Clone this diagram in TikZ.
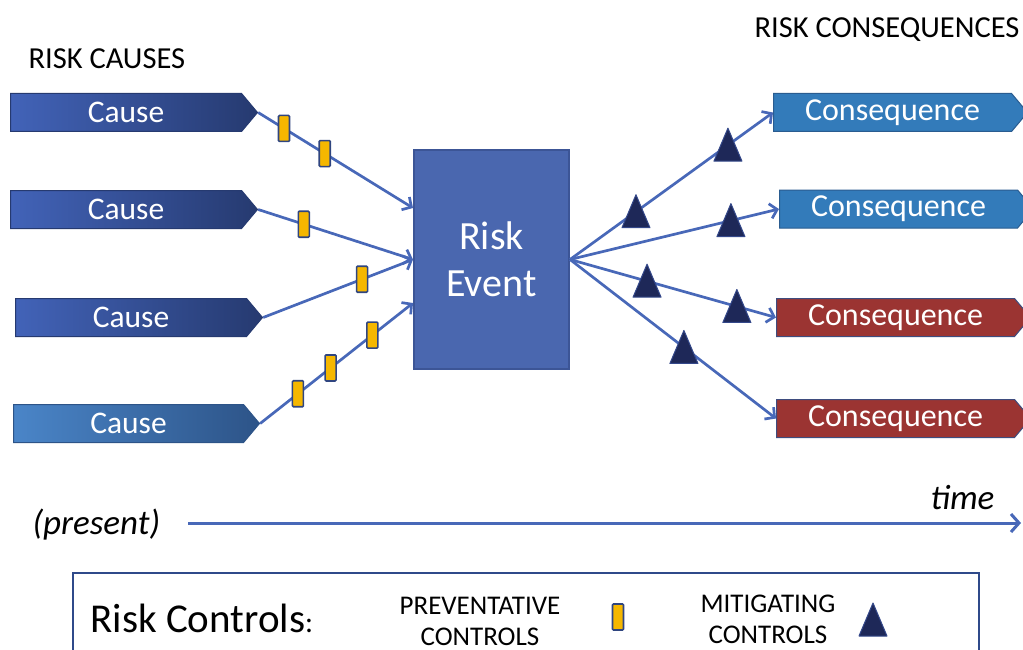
\documentclass[tikz,border=0pt]{standalone}
\usepackage{fontspec}
\setmainfont{Carlito}
\usetikzlibrary{shapes.symbols,arrows.meta}

\definecolor{linkblue}{HTML}{4868B8}
\definecolor{eventfill}{HTML}{4A67AF}
\definecolor{eventborder}{HTML}{3C5596}
\definecolor{causeL}{HTML}{4263B8}
\definecolor{causeR}{HTML}{263A70}
\definecolor{causeLlight}{HTML}{4A85C8}
\definecolor{causeRlight}{HTML}{2D5488}
\definecolor{consblue}{HTML}{337BBA}
\definecolor{consblueborder}{HTML}{2A5C90}
\definecolor{consred}{HTML}{9B3432}
\definecolor{consredborder}{HTML}{3E4C7E}
\definecolor{ctrlyellow}{HTML}{F5B700}
\definecolor{ctrlborder}{HTML}{2F4580}
\definecolor{trifill}{HTML}{1E2858}
\definecolor{triborder}{HTML}{34488A}
\definecolor{legborder}{HTML}{2F4A8A}

\begin{document}
\begin{tikzpicture}[x=1pt,y=-1pt,
  tag/.style={signal, signal to=east, signal pointer angle=100,
    minimum height=38pt, inner sep=0pt, text=white, line width=1pt},
  cause/.style={tag, left color=causeL, right color=causeR, draw=causeR,
    font=\fontsize{31.5}{36}\selectfont},
  causelight/.style={tag, left color=causeLlight, right color=causeRlight, draw=causeRlight,
    font=\fontsize{31.5}{36}\selectfont},
  consb/.style={tag, fill=consblue, draw=consblueborder, font=\fontsize{32}{36}\selectfont},
  consr/.style={tag, fill=consred, draw=consredborder, font=\fontsize{32}{36}\selectfont},
  link/.style={draw=linkblue, line width=2.7pt,
    -{Straight Barb[length=7pt,width=15pt]}},
  prev/.style={rectangle, draw=ctrlborder, fill=ctrlyellow, line width=1.6pt,
    minimum width=11pt, minimum height=26pt, inner sep=0pt, rounded corners=1pt},
  heading/.style={anchor=base west, font=\fontsize{30.5}{34}\selectfont},
  legtext/.style={align=center, font=\fontsize{27}{31}\selectfont},
  mitig/.pic={\filldraw[draw=triborder, fill=trifill, line width=1pt, line join=round]
    (-14,16) -- (14,16) -- (0,-17) -- cycle;}
]
\useasboundingbox (0,0) rectangle (1023,650);
\clip (0,0) rectangle (1023,650);

% headings
\node[heading] (hcauses) at (25,69) {RISK CAUSES};
\node[heading] (hcons) at (751,38) {RISK CONSEQUENCES};

% causes
\node[cause, minimum width=247pt, anchor=west] (c1) at (10,112.5) {Cause};
\node[cause, minimum width=247pt, anchor=west] (c2) at (10,209.5) {Cause};
\node[cause, minimum width=247pt, anchor=west] (c3) at (15,317.5) {Cause};
\node[causelight, minimum width=246pt, anchor=west] (c4) at (13,423.5) {Cause};

% risk event
\node[rectangle, fill=eventfill, draw=eventborder, line width=2pt,
      minimum width=155pt, minimum height=219pt, inner sep=0pt, text=white,
      align=center, font=\fontsize{40}{47}\selectfont] (ev) at (491.5,259.5) {Risk\\Event};

% consequences
\node[consb, minimum width=254pt, anchor=west] (q1) at (773,112.5) {Consequence};
\node[consb, minimum width=254pt, anchor=west] (q2) at (779,209) {Consequence};
\node[consr, minimum width=254pt, anchor=west] (q3) at (776,317.5) {Consequence};
\node[consr, minimum width=254pt, anchor=west] (q4) at (776,418.5) {Consequence};

% cause links with preventative controls
\draw[link] (c1.east) -- coordinate[pos=0.167] (p1) coordinate[pos=0.43] (p2) ([yshift=51.5pt]ev.west);
\draw[link] (c2.east) -- coordinate[pos=0.295] (p3) (ev.west);
\draw[link] (c3.east) -- coordinate[pos=0.66] (p4) (ev.west);
\draw[link] (c4.east) -- coordinate[pos=0.247] (p5) coordinate[pos=0.461] (p6) coordinate[pos=0.734] (p7) ([yshift=-43.5pt]ev.west);
\foreach \p in {p1,p2,p3,p4,p5,p6,p7}
  \node[prev] (ctl-\p) at (\p) {};

% consequence links with mitigating controls
\draw[link] (ev.east) -- coordinate[pos=0.325] (m1) coordinate[pos=0.778] (m2) (q1.west);
\draw[link] (ev.east) -- coordinate[pos=0.77] (m3) (q2.west);
\draw[link] (ev.east) -- coordinate[pos=0.374] (m4) coordinate[pos=0.81] (m5) (q3.west);
\draw[link] (ev.east) -- coordinate[pos=0.553] (m6) (q4.west);
\foreach \m in {m1,m2,m3,m4,m5,m6}
  \pic at (\m) {mitig};

% time axis
\node[anchor=base west, font=\itshape\fontsize{35}{40}\selectfont] (present) at (29,534) {(present)};
\node[anchor=base west, font=\itshape\fontsize{35}{40}\selectfont] (timelbl) at (927,509) {time};
\coordinate (tstart) at (188,523);
\coordinate (tend) at (1021,523);
\draw[draw=linkblue, line width=3pt, -{Straight Barb[length=8pt,width=18pt]}] (tstart) -- (tend);

% legend
\draw[draw=legborder, line width=2.5pt] (73,573) rectangle (979,700);
\node[anchor=base west, font=\fontsize{41}{46}\selectfont] (legtitle) at (87,632) {Risk Controls\fontsize{30}{36}\selectfont:};
\node[legtext] (legprev) at (480,621) {PREVENTATIVE\\CONTROLS};
\node[prev] (legrect) at (618,617) {};
\node[legtext] (legmit) at (768,619) {MITIGATING\\CONTROLS};
\pic at (873,620) {mitig};
\end{tikzpicture}
\end{document}
